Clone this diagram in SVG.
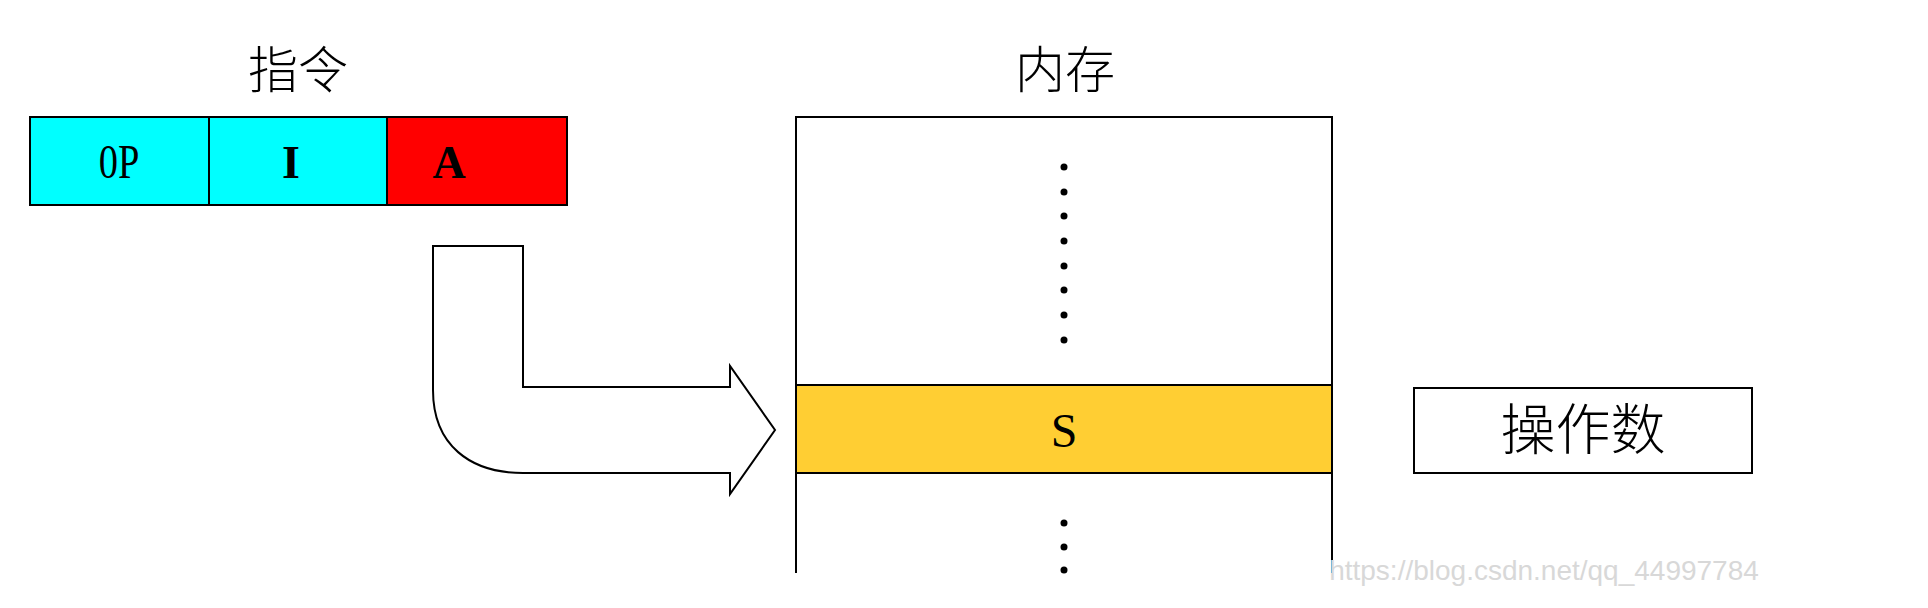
<svg xmlns="http://www.w3.org/2000/svg" width="1928" height="608" viewBox="0 0 1928 608">
<style>
.b{stroke:#000;stroke-width:2}
.cjk{font-family:"Noto Sans CJK SC",sans-serif;font-weight:300;text-anchor:middle;fill:#000}
.ser{font-family:"Liberation Serif",serif;text-anchor:middle;fill:#000}
</style>
<rect width="1928" height="608" fill="#fff"/>
<text class="cjk" x="298" y="88" font-size="50">指令</text>
<text class="cjk" x="1065" y="88" font-size="50">内存</text>
<g id="instruction">
<rect class="b" x="30" y="117" width="179" height="88" fill="#00FFFF"/>
<rect class="b" x="209" y="117" width="178" height="88" fill="#00FFFF"/>
<rect class="b" x="387" y="117" width="180" height="88" fill="#FF0000"/>
<text class="ser" x="119" y="178" font-size="48" transform="scale(0.8,1) translate(29.75,0)">0P</text>
<text class="ser" x="291" y="178" font-size="46" font-weight="bold">I</text>
<text class="ser" x="449" y="178" font-size="46" font-weight="bold">A</text>
</g>
<g id="memory">
<path class="b" d="M796 573 V117 H1332 V573" fill="none"/>
<rect class="b" x="796" y="385" width="536" height="88" fill="#FFCE33"/>
<text class="ser" x="1064" y="447" font-size="48">S</text>
<g fill="#000">
<circle cx="1064" cy="167" r="3.5"/><circle cx="1064" cy="192" r="3.5"/><circle cx="1064" cy="216" r="3.5"/><circle cx="1064" cy="241" r="3.5"/>
<circle cx="1064" cy="266" r="3.5"/><circle cx="1064" cy="290" r="3.5"/><circle cx="1064" cy="315" r="3.5"/><circle cx="1064" cy="340" r="3.5"/>
<circle cx="1064" cy="523" r="3.5"/><circle cx="1064" cy="547" r="3.5"/><circle cx="1064" cy="570" r="3.5"/>
</g>
</g>
<g id="operand">
<rect class="b" x="1414" y="388" width="338" height="85" fill="#fff"/>
<text class="cjk" x="1583" y="449" font-size="55">操作数</text>
</g>
<g id="connectors">
<path class="b" d="M433 246 H523 V387 H730 V366 L775 430 L730 494 V473 H523 C470 473 433 445 433 390 Z" fill="#fff"/>
</g>
<text x="1544" y="580" font-family="Liberation Sans,sans-serif" font-size="28" fill="#d8d8d8" text-anchor="middle">https://blog.csdn.net/qq_44997784</text>
</svg>
